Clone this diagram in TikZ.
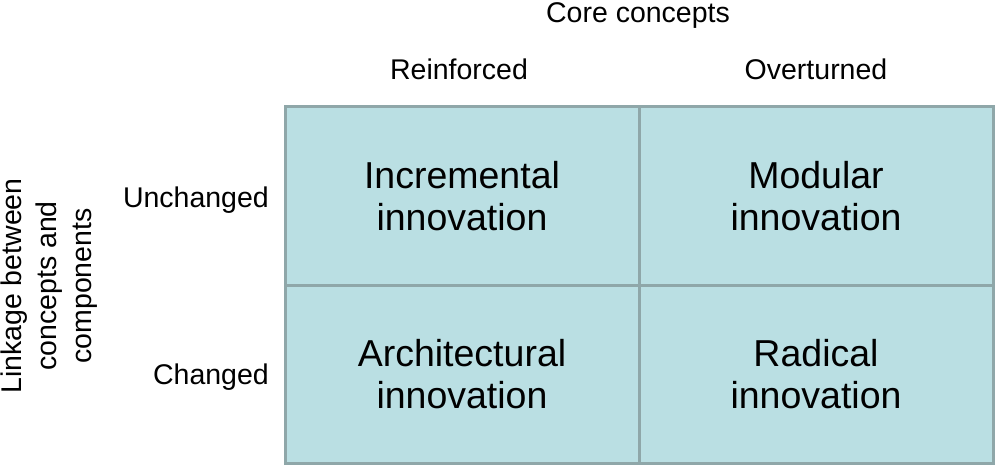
\documentclass[tikz,border=0pt]{standalone}
\usepackage{fontspec}
\setmainfont{Liberation Sans}
\definecolor{cellfill}{HTML}{BADFE3}
\definecolor{cellline}{HTML}{8FA7A9}
\begin{document}
\begin{tikzpicture}[x=1pt, y=-1pt,
  every node/.style={font=\fontsize{28.5}{33}\selectfont, inner sep=0pt},
  cell/.style={draw=cellline, line width=3pt, fill=cellfill, rectangle,
    minimum width=354pt, minimum height=178pt, align=center,
    font=\fontsize{37.5}{42}\selectfont}]
  \useasboundingbox (0,0) rectangle (996,465);

  % Cells
  \node[cell] (Inc) at (462,196) {Incremental\\innovation};
  \node[cell] (Mod) at (816,196) {Modular\\innovation};
  \node[cell] (Arc) at (462,374) {Architectural\\innovation};
  \node[cell] (Rad) at (816,374) {Radical\\innovation};

  % Column labels
  \node[anchor=base] (Core) at (638,23) {Core concepts};
  \node (Reinf) at (459,69) {Reinforced};
  \node (Overt) at (816,69) {Overturned};

  % Row labels
  \node[anchor=east] (Unch) at (269,200) {Unchanged};
  \node[anchor=east] (Chg) at (269,377) {Changed};
  \node[rotate=90, align=center, font=\fontsize{28.5}{35}\selectfont] (Link) at (49,286)
    {Linkage between\\concepts and\\components};
\end{tikzpicture}
\end{document}
